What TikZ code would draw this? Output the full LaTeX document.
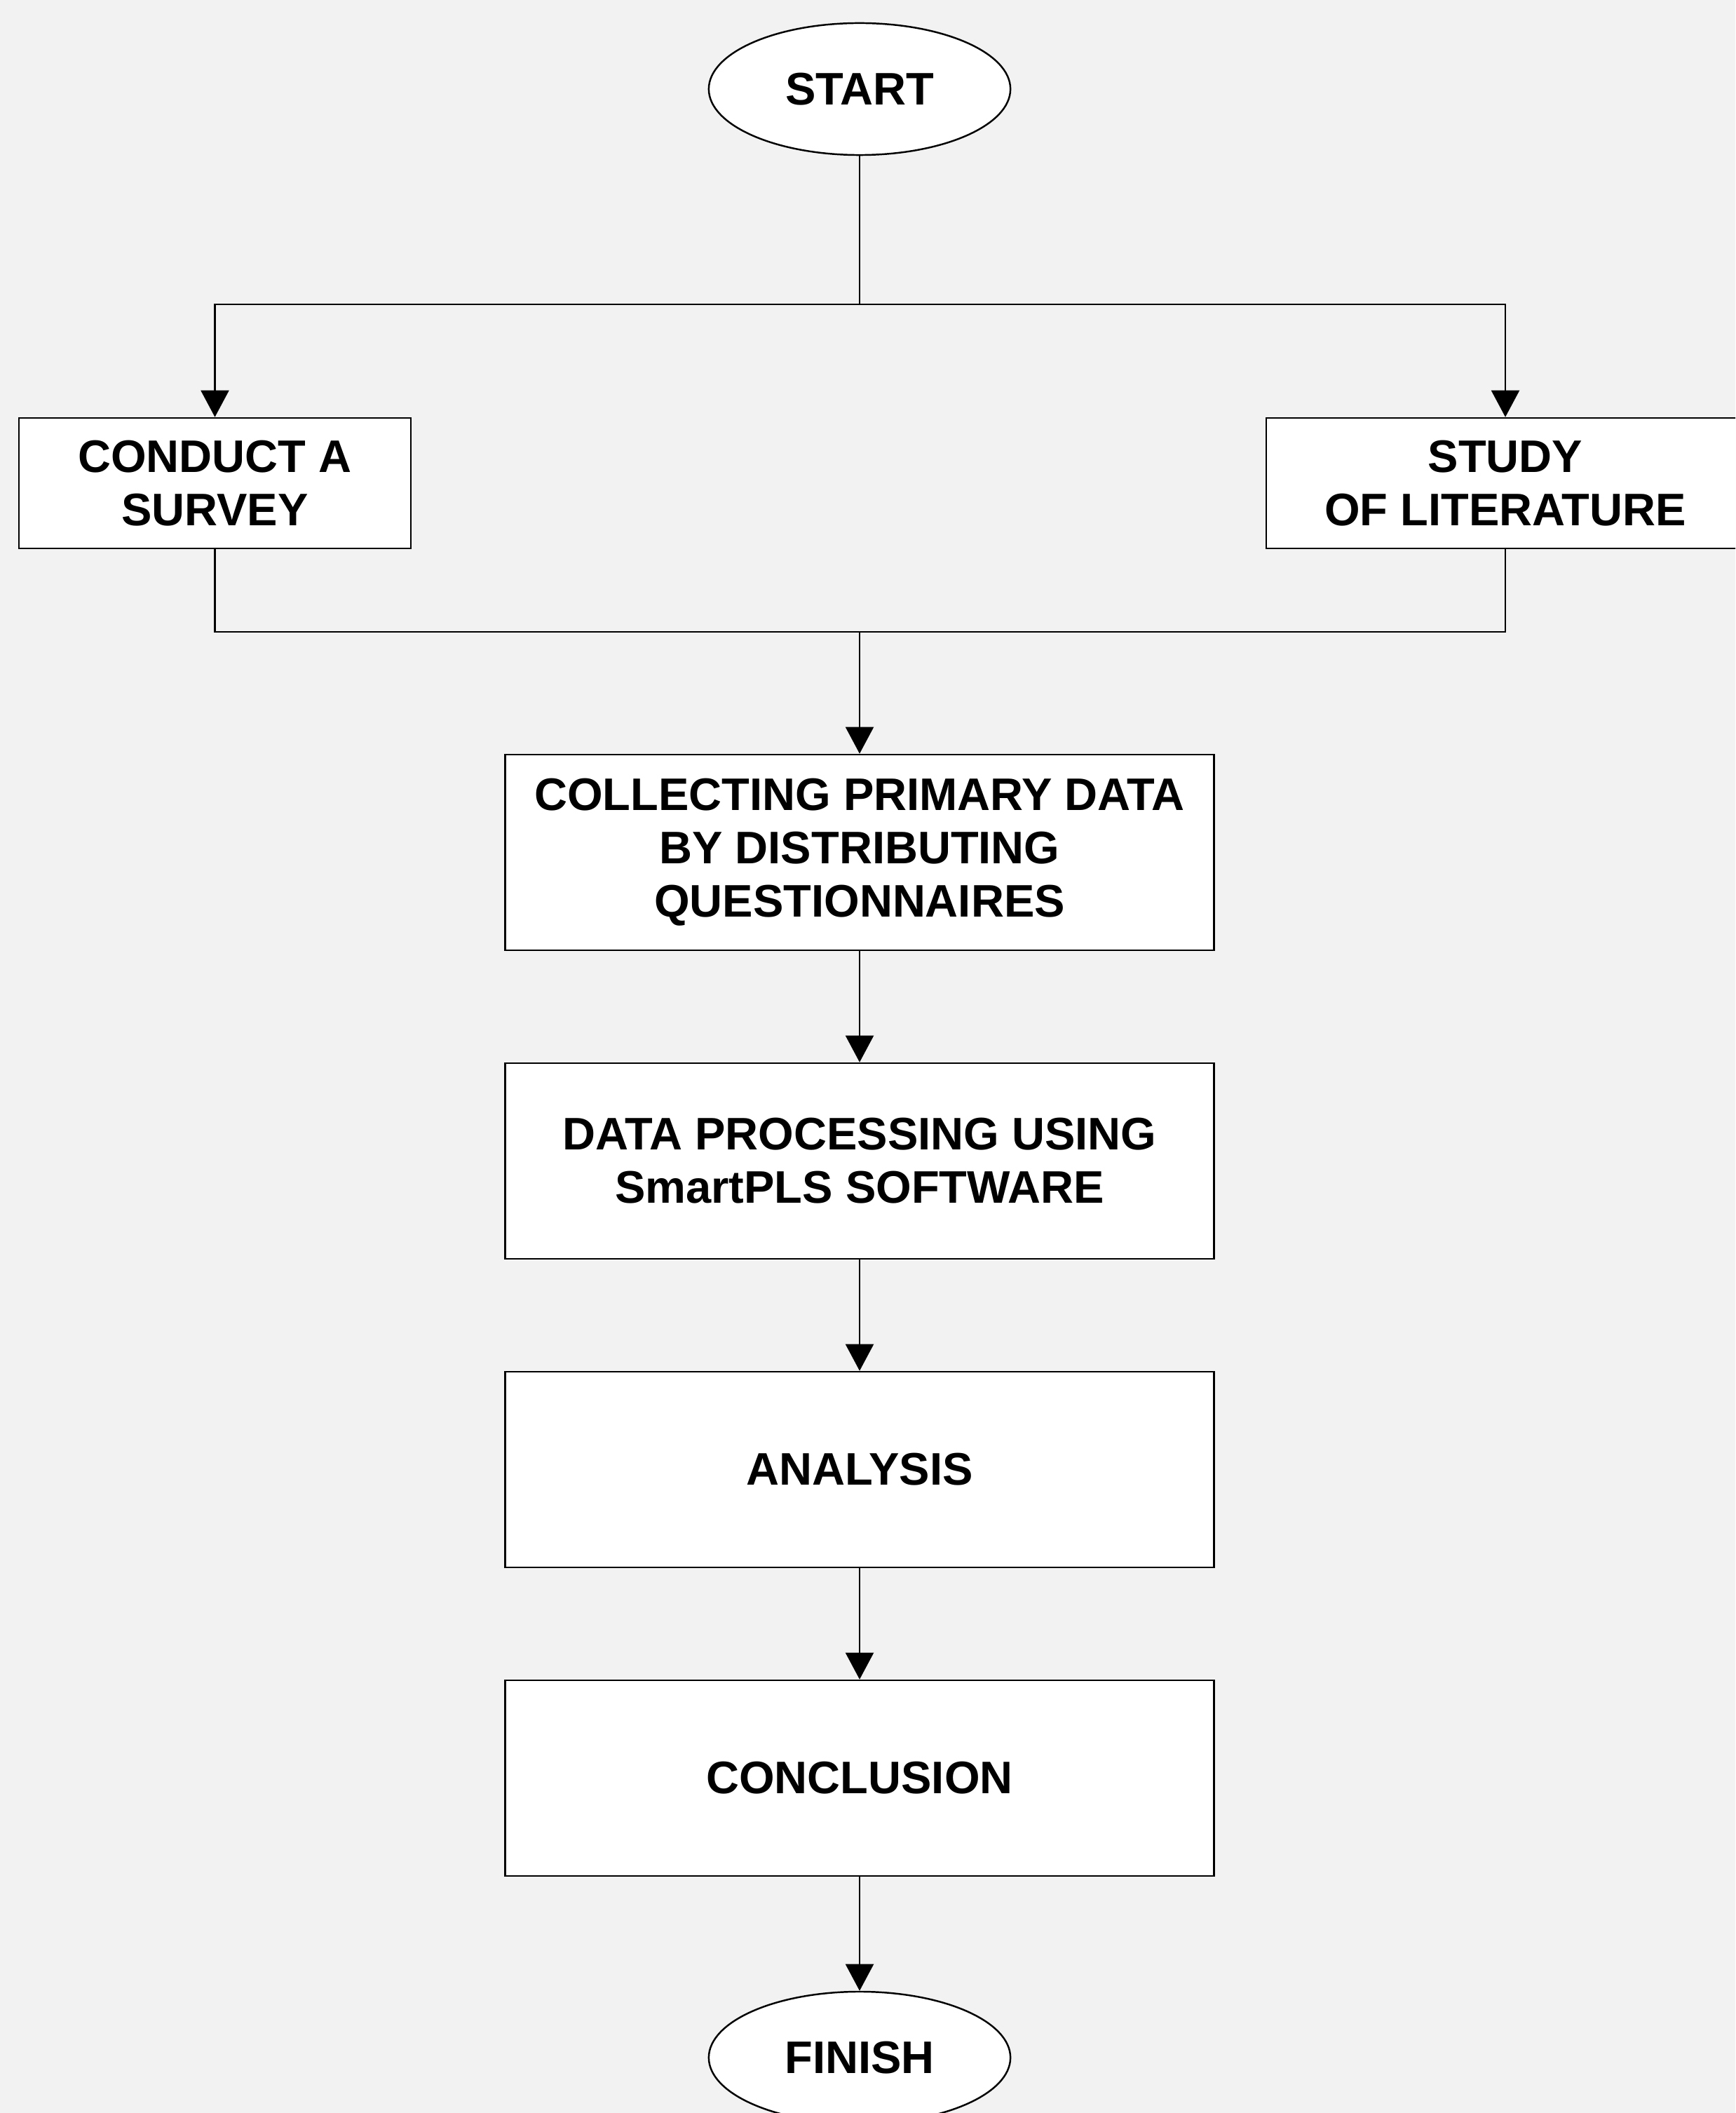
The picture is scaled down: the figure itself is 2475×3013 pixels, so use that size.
\documentclass[tikz,border=0pt]{standalone}
\usepackage{fontspec}
\setmainfont{Liberation Sans}
\usetikzlibrary{arrows.meta,shapes.geometric}
\definecolor{bgc}{HTML}{F2F2F2}
\tikzset{
  base/.style={draw=black, fill=white, line width=0.7pt, inner sep=0pt, align=center,
    font=\fontsize{18.5pt}{21.6pt}\selectfont\bfseries},
  oval/.style={base, ellipse, minimum width=4.3cm, minimum height=1.88cm},
  box/.style={base, rectangle, minimum height=1.86cm},
  bigbox/.style={base, rectangle, minimum width=10.1cm, minimum height=2.79cm},
  conn/.style={line width=0.6pt, black},
  arr/.style={conn, -{Triangle[width=0.4cm, length=0.38cm]}}
}
\begin{document}
\begin{tikzpicture}[x=0.01cm, y=-0.01cm]
\useasboundingbox (0,0) rectangle (2475,3013);
\fill[bgc] (0,0) rectangle (2475,3013);
\clip (0,0) rectangle (2475,3013);

\node[oval] (start) at (1226,127) {START};
\node[box, minimum width=5.59cm] (survey) at (306.5,689) {CONDUCT A\\SURVEY};
\node[box, minimum width=6.82cm] (lit) at (2147,689) {STUDY\\OF LITERATURE};
\node[bigbox] (collect) at (1226,1215.5) {COLLECTING PRIMARY DATA\\BY DISTRIBUTING\\QUESTIONNAIRES};
\node[bigbox] (proc) at (1226,1655.5) {DATA PROCESSING USING\\SmartPLS SOFTWARE};
\node[bigbox] (anal) at (1226,2095.5) {ANALYSIS};
\node[bigbox] (concl) at (1226,2535.5) {CONCLUSION};
\node[oval] (finish) at (1226,2934) {FINISH};

\coordinate (split) at (1226,434);
\coordinate (merge) at (1226,901);

\draw[conn] (start) -- (split);
\draw[arr] (split) -| (survey);
\draw[arr] (split) -| (lit);
\draw[conn] (survey) |- (merge);
\draw[conn] (lit) |- (merge);
\draw[arr] (merge) -- (collect);
\draw[arr] (collect) -- (proc);
\draw[arr] (proc) -- (anal);
\draw[arr] (anal) -- (concl);
\draw[arr] (concl) -- (finish);
\end{tikzpicture}
\end{document}
